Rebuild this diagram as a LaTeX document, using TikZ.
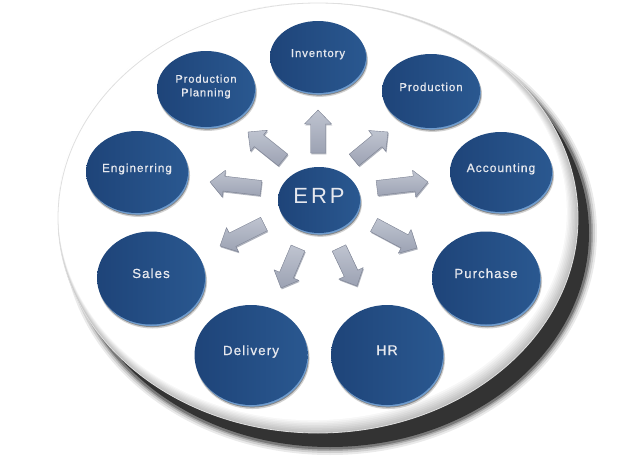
\documentclass[tikz,border=0pt]{standalone}
\usepackage{fontspec}
\setmainfont{Liberation Sans}
\newfontfamily\lblfont[LetterSpace=8.5, BoldFont={Liberation Sans}, BoldFeatures={FakeBold=0.8}]{Liberation Sans}
\newfontfamily\erpfont[LetterSpace=14]{Liberation Sans}
\usetikzlibrary{shapes.geometric,shadows,calc}
\definecolor{nodeA}{HTML}{1E4479}
\definecolor{nodeB}{HTML}{2A5890}
\definecolor{rimc}{HTML}{6E9BCD}
\definecolor{txtc}{HTML}{E6E8EE}
\definecolor{arrhi}{HTML}{BFC4D0}
\definecolor{arrlo}{HTML}{9CA2B3}
\definecolor{arrd}{HTML}{7B8192}
\definecolor{shd}{HTML}{333333}
\newcommand\blockarrow[2]{%
  \coordinate (hb) at ($(#2)!14pt!(#1)$);
  \fill[arrd, opacity=.6, transform canvas={xshift=0.8pt,yshift=-1.4pt}]
    ($(#1)!7.5pt!90:(#2)$) -- ($(hb)!7.5pt!90:(#2)$) -- ($(hb)!13.5pt!90:(#2)$) -- (#2)
    -- ($(hb)!13.5pt!-90:(#2)$) -- ($(hb)!7.5pt!-90:(#2)$) -- ($(#1)!7.5pt!-90:(#2)$) -- cycle;
  \path[arrsty]
    ($(#1)!7.5pt!90:(#2)$) -- ($(hb)!7.5pt!90:(#2)$) -- ($(hb)!13.5pt!90:(#2)$) -- (#2)
    -- ($(hb)!13.5pt!-90:(#2)$) -- ($(hb)!7.5pt!-90:(#2)$) -- ($(#1)!7.5pt!-90:(#2)$) -- cycle;
}
\begin{document}
\begin{tikzpicture}[x=1pt,y=-1pt,
  arrsty/.style={top color=arrhi, bottom color=arrlo, draw=arrd, line width=0.4pt, line join=round},
  fs/.style={font=\lblfont\bfseries\fontsize{#1}{13.6}\selectfont},
  bub/.style={ellipse, inner sep=0pt, left color=nodeA, right color=nodeB,
    general shadow={shadow xshift=1.5pt, shadow yshift=-3.5pt, shadow scale=1.01, fill=black, opacity=.18},
    general shadow={shadow xshift=1.2pt, shadow yshift=-2.6pt, fill=black, opacity=.35},
    general shadow={shadow xshift=0.8pt, shadow yshift=-1.6pt, fill=rimc},
    text=txtc, fs=11.3, align=center}
  ]
\useasboundingbox (0,0) rectangle (630,463);
% disc shadow
\foreach \k/\o in {7/0.10,5/0.15,3/0.25,1.5/0.4}{
  \fill[shd, opacity=\o] (330,233) ellipse [x radius={260+\k}, y radius={215+\k}];
}
\fill[shd] (330,233) ellipse [x radius=259, y radius=214];
% disc with soft rim
\fill[gray!50] (318,218) ellipse [x radius=260, y radius=215];
\foreach \k in {1,...,8}{
  \pgfmathsetmacro\c{50-6.25*\k}
  \fill[gray!\c] ({318-0.7*\k},{218-0.8*\k}) ellipse [x radius={260-0.7*\k}, y radius={215-0.8*\k}];
}
\draw[gray!25, line width=0.8pt] (318,218) ellipse [x radius=260, y radius=215];
% arrows
\coordinate (a1t) at (318,153); \coordinate (a1h) at (318,110);
\coordinate (a2t) at (283,160); \coordinate (a2h) at (248,132);
\coordinate (a3t) at (354,160); \coordinate (a3h) at (388,132);
\coordinate (a4t) at (261,188); \coordinate (a4h) at (210,182);
\coordinate (a5t) at (377,188); \coordinate (a5h) at (428,182);
\coordinate (a6t) at (264,224); \coordinate (a6h) at (220,246);
\coordinate (a7t) at (298,248); \coordinate (a7h) at (281,288);
\coordinate (a8t) at (339,248); \coordinate (a8h) at (357,286);
\coordinate (a9t) at (374,225); \coordinate (a9h) at (417,248);
\blockarrow{a1t}{a1h}
\blockarrow{a2t}{a2h}
\blockarrow{a3t}{a3h}
\blockarrow{a4t}{a4h}
\blockarrow{a5t}{a5h}
\blockarrow{a6t}{a6h}
\blockarrow{a7t}{a7h}
\blockarrow{a8t}{a8h}
\blockarrow{a9t}{a9h}
% nodes
\node[bub, minimum width=96, minimum height=72] (inv) at (318,57) {\smash{Inventory}};
\node[bub, fs=11, minimum width=98, minimum height=76, text depth=7pt] (pp) at (206,89) {Production\\Planning};
\node[bub, fs=11.4, minimum width=98, minimum height=74] (prod) at (431,91) {\smash{Production}};
\node[bub, fs=11.7, minimum width=102, minimum height=82] (eng) at (137,172) {\smash{Enginerring}};
\node[bub, fs=12, minimum width=102, minimum height=80] (acc) at (501,172) {\smash{Accounting}};
\node[bub, minimum width=82, minimum height=66, text depth=9pt,
      font=\erpfont\fontsize{22}{24}\selectfont] (erp) at (319,200) {ERP};
\node[bub, fs=13.2, minimum width=108, minimum height=93] (sales) at (151,278) {\smash{Sales}};
\node[bub, fs=13.1, minimum width=108, minimum height=93] (pur) at (486,278) {\smash{Purchase}};
\node[bub, fs=13.3, minimum width=113, minimum height=100] (del) at (251,355) {\smash{Delivery}};
\node[bub, fs=14, minimum width=112, minimum height=100] (hr) at (387,355) {\smash{HR}};
\end{tikzpicture}
\end{document}
